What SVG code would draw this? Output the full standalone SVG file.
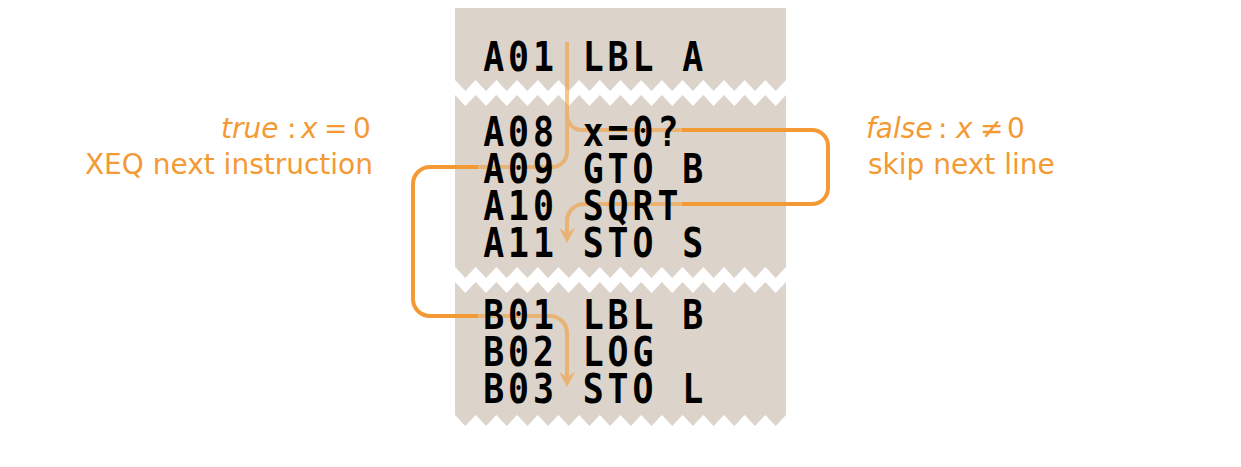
<svg xmlns="http://www.w3.org/2000/svg" xmlns:xlink="http://www.w3.org/1999/xlink" width="1241" height="467" viewBox="0 0 1241 467">
  <style>
    .tape { fill: #DCD4CA; }
    .tear { fill: #FFFFFF; }
    .code { font-family: "DejaVu Sans Mono", "Liberation Mono", monospace; font-weight: bold; font-size: 41px; letter-spacing: 4.6px; fill: #000000; }
    .lbl { font-family: "DejaVu Sans", "Liberation Sans", sans-serif; font-size: 28px; fill: #F39A35; }
    .it { font-style: italic; }
    .flow { fill: none; stroke: #F39A35; stroke-width: 4; marker-end: url(#arrow); }
  </style>
  <defs>
    <path id="tearStrip" d="M455,0 l10.34375,11 l10.34375,-11 l10.34375,11 l10.34375,-11 l10.34375,11 l10.34375,-11 l10.34375,11 l10.34375,-11 l10.34375,11 l10.34375,-11 l10.34375,11 l10.34375,-11 l10.34375,11 l10.34375,-11 l10.34375,11 l10.34375,-11 l10.34375,11 l10.34375,-11 l10.34375,11 l10.34375,-11 l10.34375,11 l10.34375,-11 l10.34375,11 l10.34375,-11 l10.34375,11 l10.34375,-11 l10.34375,11 l10.34375,-11 l10.34375,11 l10.34375,-11 l10.34375,11 l10.34375,-11 V15 l-10.34375,11 l-10.34375,-11 l-10.34375,11 l-10.34375,-11 l-10.34375,11 l-10.34375,-11 l-10.34375,11 l-10.34375,-11 l-10.34375,11 l-10.34375,-11 l-10.34375,11 l-10.34375,-11 l-10.34375,11 l-10.34375,-11 l-10.34375,11 l-10.34375,-11 l-10.34375,11 l-10.34375,-11 l-10.34375,11 l-10.34375,-11 l-10.34375,11 l-10.34375,-11 l-10.34375,11 l-10.34375,-11 l-10.34375,11 l-10.34375,-11 l-10.34375,11 l-10.34375,-11 l-10.34375,11 l-10.34375,-11 l-10.34375,11 l-10.34375,-11 Z"/>
    <marker id="arrow" viewBox="0 0 15 16" refX="7" refY="8" markerWidth="15" markerHeight="16" markerUnits="userSpaceOnUse" orient="auto">
      <path d="M0,0 L15,8 L0,16 L5,8 Z" fill="#F39A35"/>
    </marker>
    <mask id="fade" maskUnits="userSpaceOnUse" x="0" y="0" width="1241" height="467">
      <rect x="0" y="0" width="1241" height="467" fill="#FFFFFF"/>
      <rect x="478" y="8" width="204" height="420" fill="#939393"/>
    </mask>
  </defs>

  <rect x="0" y="0" width="1241" height="467" fill="#FFFFFF"/>

  <g id="tape">
    <rect class="tape" x="455" y="8" width="331" height="420"/>
    <use xlink:href="#tearStrip" href="#tearStrip" class="tear" transform="translate(0,80)"/>
    <use xlink:href="#tearStrip" href="#tearStrip" class="tear" transform="translate(0,267)"/>
    <path class="tear" d="M455,415 l10.34375,11 l10.34375,-11 l10.34375,11 l10.34375,-11 l10.34375,11 l10.34375,-11 l10.34375,11 l10.34375,-11 l10.34375,11 l10.34375,-11 l10.34375,11 l10.34375,-11 l10.34375,11 l10.34375,-11 l10.34375,11 l10.34375,-11 l10.34375,11 l10.34375,-11 l10.34375,11 l10.34375,-11 l10.34375,11 l10.34375,-11 l10.34375,11 l10.34375,-11 l10.34375,11 l10.34375,-11 l10.34375,11 l10.34375,-11 l10.34375,11 l10.34375,-11 l10.34375,11 l10.34375,-11 V440 H455 Z"/>
  </g>

  <g id="connectors" mask="url(#fade)">
    <path id="flow-true" class="flow" d="M567,42 V152 A15,15 0 0 1 552,167 H430 A17,17 0 0 0 413,184 V299 A17,17 0 0 0 430,316 H550 A17,17 0 0 1 567,333 V379"/>
    <path id="flow-false" class="flow" d="M567,115 A15,15 0 0 0 582,130 H812 A16,16 0 0 1 828,146 V188 A16,16 0 0 1 812,204 H584 A17,17 0 0 0 567,221 V235"/>
  </g>

  <g id="program" transform="scale(0.85,1)">
    <g id="A01"><text class="code" x="568.5" y="71" xml:space="preserve">A01 LBL A</text></g>
    <g id="A08"><text class="code" x="568.5" y="146" xml:space="preserve">A08 x=0?</text></g>
    <g id="A09"><text class="code" x="568.5" y="183" xml:space="preserve">A09 GTO B</text></g>
    <g id="A10"><text class="code" x="568.5" y="220" xml:space="preserve">A10 SQRT</text></g>
    <g id="A11"><text class="code" x="568.5" y="257" xml:space="preserve">A11 STO S</text></g>
    <g id="B01"><text class="code" x="568.5" y="329.5" xml:space="preserve">B01 LBL B</text></g>
    <g id="B02"><text class="code" x="568.5" y="366.5" xml:space="preserve">B02 LOG</text></g>
    <g id="B03"><text class="code" x="568.5" y="403.5" xml:space="preserve">B03 STO L</text></g>
  </g>

  <g id="label-true">
    <text class="lbl" y="138"><tspan class="it" x="221">true</tspan><tspan x="287">:</tspan><tspan class="it" x="301">x</tspan><tspan x="324">=</tspan><tspan x="353">0</tspan></text>
    <text class="lbl" x="373" y="174" text-anchor="end">XEQ next instruction</text>
  </g>
  <g id="label-false">
    <text class="lbl" y="138"><tspan class="it" x="866">false</tspan><tspan x="938">:</tspan><tspan class="it" x="956">x</tspan><tspan x="980">≠</tspan><tspan x="1007">0</tspan></text>
    <text class="lbl" x="868" y="174">skip next line</text>
  </g>
</svg>
